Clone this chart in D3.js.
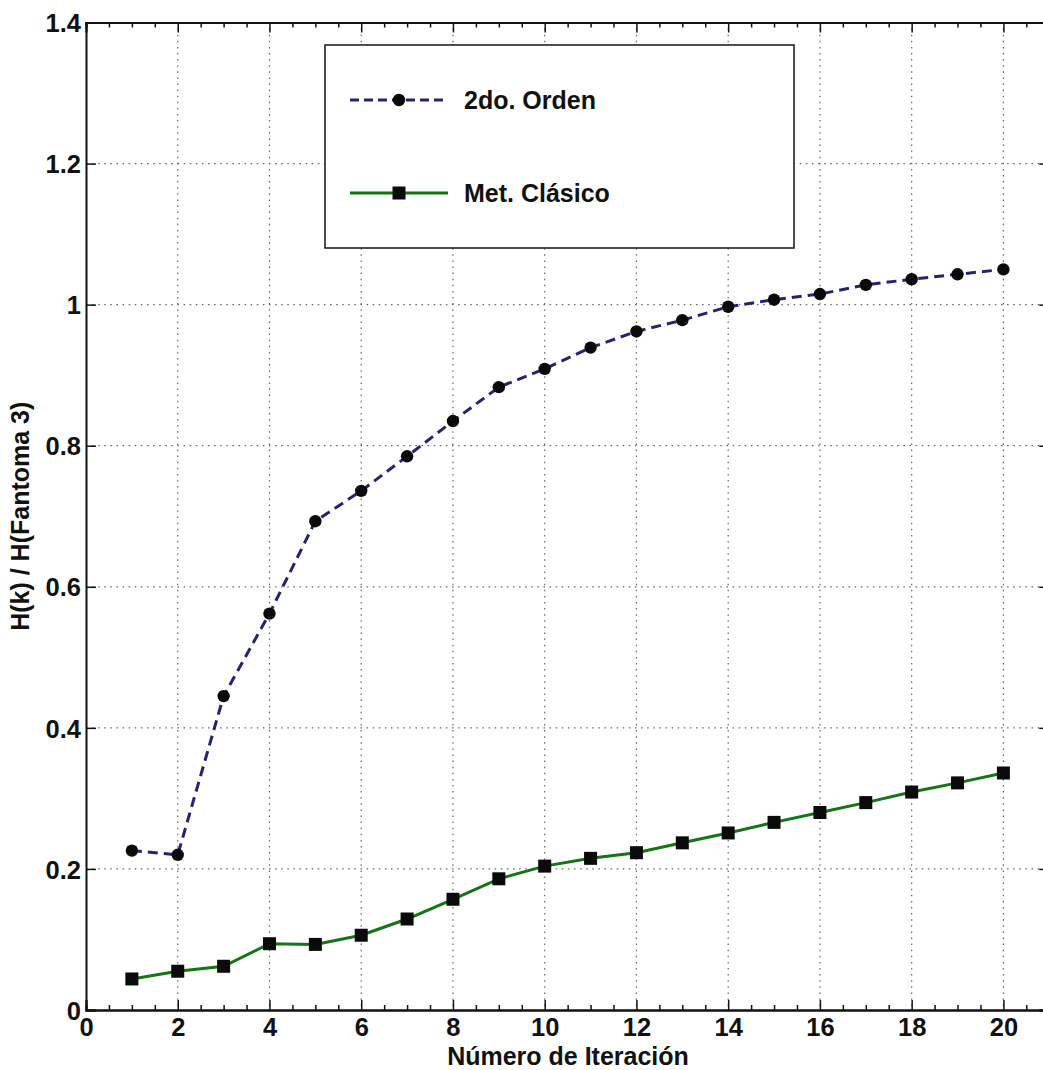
<!DOCTYPE html>
<html>
<head>
<meta charset="utf-8">
<script src="https://cdn.jsdelivr.net/npm/d3@7"></script>
<style>
  html, body { margin: 0; padding: 0; background: #fff; }
  svg { display: block; }
  text { font-family: "Liberation Sans", Arial, sans-serif; font-weight: bold; fill: #111; }
</style>
</head>
<body>
<svg id="chart" width="1043" height="1070"></svg>
<script>
// Iteration number (x) for both series
const iterations = [1, 2, 3, 4, 5, 6, 7, 8, 9, 10, 11, 12, 13, 14, 15, 16, 17, 18, 19, 20];

// H(k) / H(Fantoma 3) for the second-order method
const segundoOrden = [0.226, 0.220, 0.445, 0.562, 0.693, 0.736, 0.785, 0.835, 0.883, 0.909,
                      0.939, 0.962, 0.978, 0.997, 1.007, 1.015, 1.028, 1.036, 1.043, 1.050];

// H(k) / H(Fantoma 3) for the classic method
const metClasico = [0.044, 0.055, 0.062, 0.094, 0.093, 0.106, 0.129, 0.157, 0.186, 0.204,
                    0.215, 0.223, 0.237, 0.251, 0.266, 0.280, 0.294, 0.309, 0.322, 0.336];

const xTickValues = [0, 2, 4, 6, 8, 10, 12, 14, 16, 18, 20];
const xMinorValues = d3.range(0, 21.01, 0.5);
const yTickValues = [0, 0.2, 0.4, 0.6, 0.8, 1.0, 1.2, 1.4];
const yTickLabels = ["0", "0.2", "0.4", "0.6", "0.8", "1", "1.2", "1.4"];

const seriesNames = ["2do. Orden", "Met. Clásico"];
const xTitle = "Número de Iteración";
const yTitle = "H(k) / H(Fantoma 3)";

const svg = d3.select("#chart");
const plotLeft = 86, plotTop = 22.5, plotBottom = 1010;

const x = d3.scaleLinear().domain([0, 21]).range([plotLeft, plotLeft + 21 * 45.87]);
const y = d3.scaleLinear().domain([0, 1.4]).range([plotBottom, plotTop]);
const plotRight = x(21);

svg.append("rect").attr("width", 1043).attr("height", 1070).attr("fill", "#fff");

// dotted grid
const grid = svg.append("g").attr("stroke", "#333").attr("stroke-width", 1.2)
  .attr("stroke-dasharray", "1.5,4.6").attr("opacity", 0.75);
grid.selectAll("line.vx").data(xTickValues.filter(d => d > 0)).join("line")
  .attr("class", "vx")
  .attr("x1", d => x(d)).attr("x2", d => x(d)).attr("y1", plotTop).attr("y2", plotBottom);
grid.selectAll("line.hy").data(yTickValues.filter(d => d > 0 && d < 1.4)).join("line")
  .attr("class", "hy")
  .attr("x1", plotLeft).attr("x2", plotRight).attr("y1", d => y(d)).attr("y2", d => y(d));

// axes (ticks pointing inward, boxed)
const bottomAxis = d3.axisBottom(x).tickValues(xTickValues).tickSize(-10).tickPadding(16)
  .tickFormat(d3.format("d"));
const gx = svg.append("g").attr("transform", `translate(0,${plotBottom})`).call(bottomAxis);
const topAxis = d3.axisTop(x).tickValues(xTickValues).tickSize(-10).tickFormat("");
svg.append("g").attr("transform", `translate(0,${plotTop})`).call(topAxis);
const minorB = d3.axisBottom(x).tickValues(xMinorValues.filter(d => d % 2 !== 0)).tickSize(-5).tickFormat("");
const minorT = d3.axisTop(x).tickValues(xMinorValues.filter(d => d % 2 !== 0)).tickSize(-5).tickFormat("");
svg.append("g").attr("transform", `translate(0,${plotBottom})`).call(minorB);
svg.append("g").attr("transform", `translate(0,${plotTop})`).call(minorT);

const leftAxis = d3.axisLeft(y).tickValues(yTickValues).tickSize(-10).tickPadding(6)
  .tickFormat((d, i) => yTickLabels[i]);
const gy = svg.append("g").attr("transform", `translate(${plotLeft},0)`).call(leftAxis);
const rightAxis = d3.axisRight(y).tickValues(yTickValues).tickSize(-10).tickFormat("");
svg.append("g").attr("transform", `translate(${plotRight},0)`).call(rightAxis);

svg.selectAll(".domain").attr("stroke", "#111").attr("stroke-width", 2);
svg.selectAll(".tick line").attr("stroke", "#111").attr("stroke-width", 1.5);
svg.selectAll(".tick text").attr("font-size", 25.5).attr("font-weight", "bold")
  .attr("font-family", "'Liberation Sans', Arial, sans-serif").attr("fill", "#111");
gx.selectAll(".tick text").attr("dy", "0.71em").attr("y", 8);
gy.selectAll(".tick text").attr("x", -5).attr("dy", "0.36em");

// series lines
const line = d3.line().x((d, i) => x(iterations[i])).y(d => y(d));

svg.append("path").datum(metClasico).attr("d", line)
  .attr("fill", "none").attr("stroke", "#137513").attr("stroke-width", 3);
svg.append("path").datum(segundoOrden).attr("d", line)
  .attr("fill", "none").attr("stroke", "#24246e").attr("stroke-width", 3)
  .attr("stroke-dasharray", "10,6");

svg.append("g").selectAll("rect").data(metClasico).join("rect")
  .attr("x", (d, i) => x(iterations[i]) - 6.5).attr("y", d => y(d) - 6.5)
  .attr("width", 13).attr("height", 13).attr("fill", "#0a0a0a");
svg.append("g").selectAll("circle").data(segundoOrden).join("circle")
  .attr("cx", (d, i) => x(iterations[i])).attr("cy", d => y(d)).attr("r", 6.2)
  .attr("fill", "#0a0a0a");

// legend
const lg = svg.append("g");
lg.append("rect").attr("x", 325).attr("y", 45).attr("width", 469).attr("height", 203)
  .attr("fill", "#fff").attr("stroke", "#222").attr("stroke-width", 1.6);
const entries = [
  { name: seriesNames[0], cy: 100, color: "#24246e", dash: "9,5", marker: "circle" },
  { name: seriesNames[1], cy: 193, color: "#137513", dash: null, marker: "square" }
];
entries.forEach(e => {
  lg.append("line").attr("x1", 350).attr("x2", 448).attr("y1", e.cy).attr("y2", e.cy)
    .attr("stroke", e.color).attr("stroke-width", 3)
    .attr("stroke-dasharray", e.dash);
  if (e.marker === "circle") {
    lg.append("circle").attr("cx", 399).attr("cy", e.cy).attr("r", 6.2).attr("fill", "#0a0a0a");
  } else {
    lg.append("rect").attr("x", 392.5).attr("y", e.cy - 6.5).attr("width", 13).attr("height", 13).attr("fill", "#0a0a0a");
  }
  lg.append("text").attr("x", 464).attr("y", e.cy).attr("dy", "0.36em")
    .attr("font-size", 25).text(e.name);
});

// axis titles
svg.append("text").attr("x", 568).attr("y", 1065)
  .attr("text-anchor", "middle").attr("font-size", 25).text(xTitle);
svg.append("text").attr("transform", `translate(29,${(plotTop + plotBottom) / 2}) rotate(-90)`)
  .attr("text-anchor", "middle").attr("font-size", 25).text(yTitle);
</script>
</body>
</html>
